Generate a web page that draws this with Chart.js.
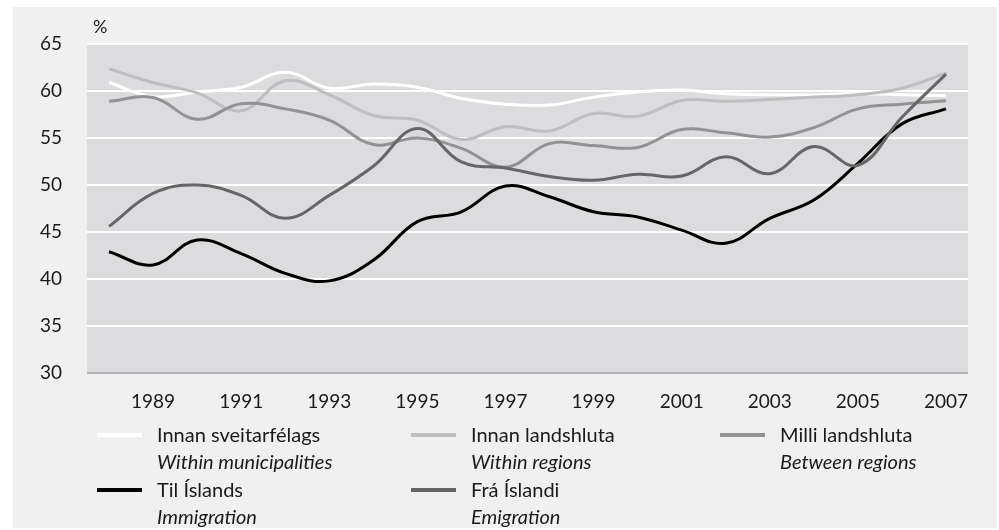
<!DOCTYPE html>
<html>
<head>
<meta charset="utf-8">
<script src="https://cdn.jsdelivr.net/npm/chart.js@4.4.1/dist/chart.umd.min.js"></script>
<style>
    body { margin: 0; background: #ffffff; font-family: Lato, sans-serif; }
    #panel { position: absolute; left: 13px; top: 7px; width: 984px; height: 521px; background: #f0f0f0; }
    #wrap { position: absolute; left: 0; top: 0; width: 999px; height: 530px; }
    #pct { position: absolute; left: 93px; top: 15px; font-size: 18px; color: #1a1a1a; }
    .item { position: absolute; font-size: 20px; color: #1a1a1a; line-height: 27px; }
    .item .swatch { position: absolute; left: -60px; top: 12px; width: 45px; height: 4px; }
    .item i { display: block; }
</style>
</head>
<body>
<div id="panel"></div>
<div id="wrap"><canvas id="chart_one" width="999" height="530"></canvas></div>
<div id="pct">%</div>
<div id="legend"></div>
<script>
const years = ["1988", "1989", "1990", "1991", "1992", "1993", "1994", "1995", "1996", "1997",
               "1998", "1999", "2000", "2001", "2002", "2003", "2004", "2005", "2006", "2007"];

const innanSveit = [60.9, 59.4, 59.9, 60.4, 62.0, 60.3, 60.75, 60.4, 59.2, 58.6,
                    58.5, 59.35, 59.9, 60.1, 59.7, 59.6, 59.6, 59.7, 59.6, 59.5];
const innanLands = [62.35, 60.9, 59.8, 57.9, 61.1, 59.6, 57.4, 56.9, 54.85, 56.2,
                    55.75, 57.6, 57.3, 59.0, 58.9, 59.1, 59.35, 59.6, 60.3, 61.9];
const milliLands = [58.9, 59.3, 57.0, 58.65, 58.1, 56.9, 54.3, 55.0, 53.9, 51.9,
                    54.4, 54.2, 54.0, 55.9, 55.55, 55.1, 56.1, 58.1, 58.6, 58.95];
const tilIslands = [42.9, 41.5, 44.15, 42.7, 40.6, 39.8, 42.0, 46.1, 47.15, 49.9,
                    48.75, 47.15, 46.6, 45.2, 43.8, 46.45, 48.4, 52.3, 56.5, 58.1];
const fraIslandi = [45.6, 49.1, 50.0, 48.9, 46.45, 48.9, 52.0, 56.0, 52.45, 51.8,
                    50.9, 50.5, 51.15, 50.95, 53.0, 51.2, 54.1, 52.1, 57.2, 61.8];

const yTicks = [30, 35, 40, 45, 50, 55, 60, 65];

const namesIs = ["Innan sveitarfélags", "Innan landshluta", "Milli landshluta", "Til Íslands", "Frá Íslandi"];
const namesEn = ["Within municipalities", "Within regions", "Between regions", "Immigration", "Emigration"];
const colors = ["#ffffff", "#bebec0", "#929294", "#000000", "#666668"];
const series = [innanSveit, innanLands, milliLands, tilIslands, fraIslandi];

// legend spots (left of text, top of first line)
const legendX = [157, 471, 780, 157, 471];
const legendY = [421, 421, 421, 476, 476];

const legend = document.getElementById("legend");
namesIs.forEach((name, i) => {
    const d = document.createElement("div");
    d.className = "item";
    d.style.left = legendX[i] + "px";
    d.style.top = legendY[i] + "px";
    d.innerHTML = '<span class="swatch" style="background:' + colors[i] + '"></span>' + name + '<i>' + namesEn[i] + '</i>';
    legend.appendChild(d);
});

const plotBg = {
    id: "plotBg",
    beforeDraw(chart) {
        const a = chart.chartArea;
        chart.ctx.save();
        chart.ctx.fillStyle = "#dcdcde";
        chart.ctx.fillRect(a.left, a.top, a.right - a.left, a.bottom - a.top);
        chart.ctx.restore();
    }
};

const order = [5, 4, 3, 2, 1];

const ct = document.getElementById("chart_one");
new Chart(ct, {
    type: "line",
    data: {
        labels: years,
        datasets: series.map((vals, i) => ({
            label: namesIs[i],
            data: vals,
            borderColor: colors[i],
            borderWidth: 3,
            pointRadius: 0,
            tension: 0.4,
            order: order[i]
        }))
    },
    options: {
        responsive: false,
        animation: false,
        layout: { padding: { top: 44, right: 31, left: 0, bottom: 0 } },
        plugins: { legend: { display: false }, tooltip: { enabled: false } },
        scales: {
            x: {
                offset: true,
                grid: { display: false, drawTicks: false },
                border: { display: false },
                ticks: {
                    autoSkip: false,
                    maxRotation: 0,
                    padding: 17,
                    color: "#1a1a1a",
                    font: { family: "Lato", size: 19 },
                    callback: function (v, i) { return (i % 2 == 1) ? years[i] : ""; }
                },
                afterFit: s => { s.height = 157; }
            },
            y: {
                min: 30,
                max: 65,
                afterBuildTicks: s => { s.ticks = yTicks.map(v => ({ value: v })); },
                grid: {
                    color: c => c.tick.value == 30 ? "#b3b3b7" : "#ffffff",
                    lineWidth: 2,
                    drawTicks: false
                },
                border: { display: false },
                ticks: {
                    padding: 25,
                    color: "#1a1a1a",
                    font: { family: "Lato", size: 19 }
                },
                afterFit: s => { s.width = 87; }
            }
        }
    },
    plugins: [plotBg]
});
</script>
</body>
</html>
